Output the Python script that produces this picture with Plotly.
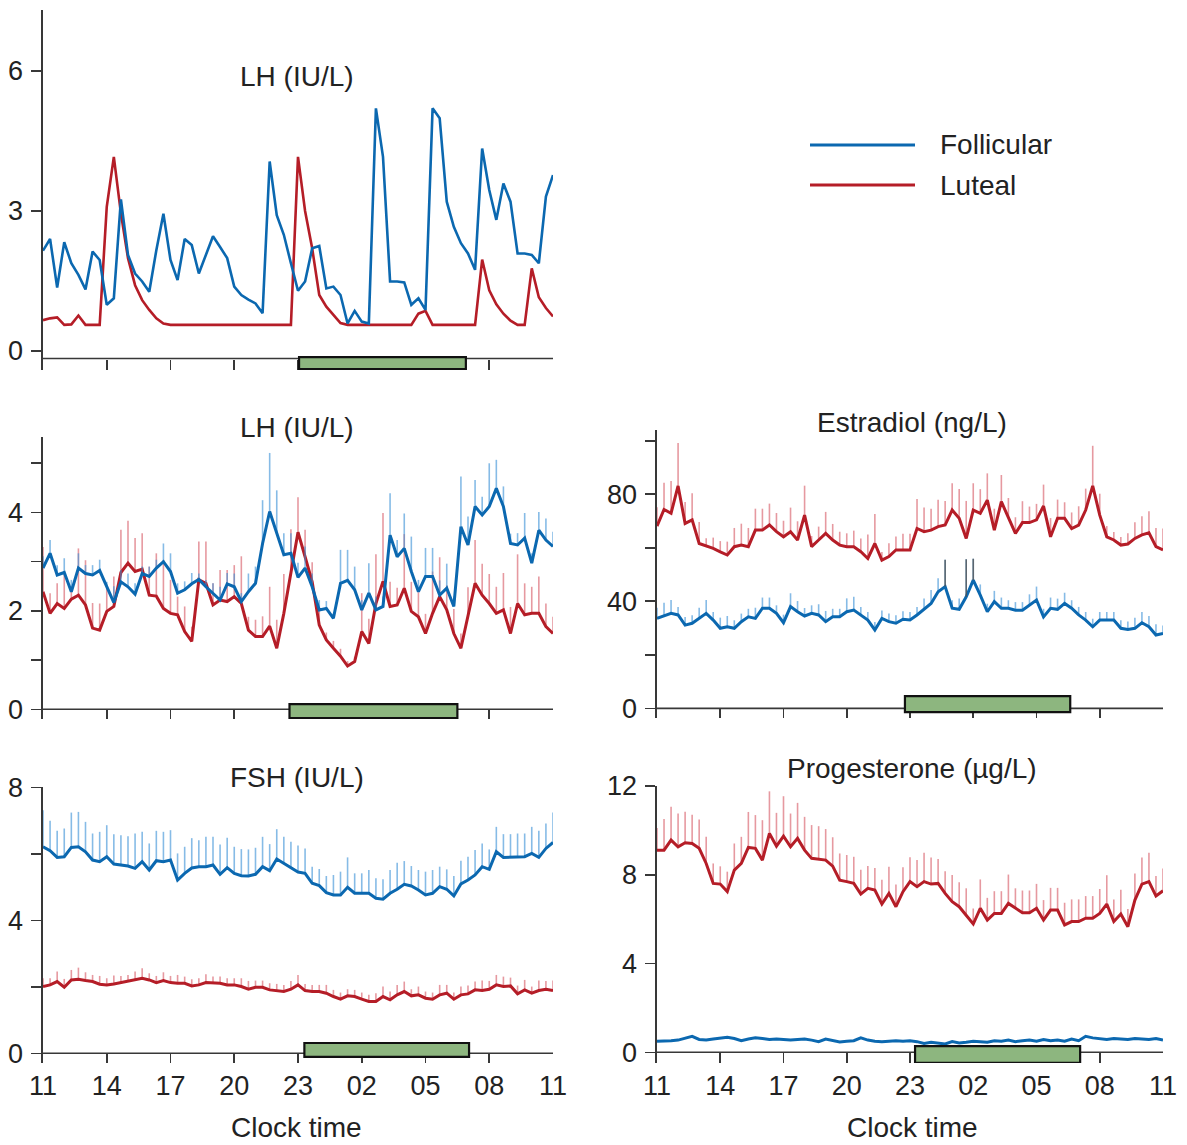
import plotly.graph_objects as go

# ---------------------------------------------------------------- data
SAMPLE_MIN = 20  # sampling interval (minutes), series start at 11:00
tick_hours = [0, 3, 6, 9, 12, 15, 18, 21, 24]
tick_labels = ["11", "14", "17", "20", "23", "02", "05", "08", "11"]

# Panel A: LH, single subject (IU/L)
lh_ind_fol = [2.15, 2.40, 1.36, 2.33, 1.88, 1.63, 1.32, 2.13, 1.95, 0.99,
              1.13, 3.25, 2.06, 1.66, 1.49, 1.27, 2.16, 2.94, 1.95, 1.52,
              2.40, 2.27, 1.66, 2.08, 2.46, 2.23, 1.99, 1.38, 1.20, 1.10,
              1.02, 0.81, 4.06, 2.91, 2.49, 1.88,
              1.29, 1.49, 2.20, 2.25, 1.34, 1.38, 1.20, 0.59, 0.86, 0.63,
              0.59, 5.20, 4.16, 1.49, 1.49, 1.47, 0.99, 1.13, 0.88, 5.20,
              4.99, 3.20, 2.66, 2.31, 2.09, 1.74, 4.34, 3.45, 2.81, 3.59,
              3.20, 2.09, 2.09, 2.06, 1.88, 3.31, 3.77]
lh_ind_lut = [0.66, 0.70, 0.72, 0.56, 0.57, 0.76, 0.56, 0.56, 0.56, 3.09,
              4.16, 2.95, 1.99, 1.41, 1.09, 0.88, 0.70, 0.59, 0.56, 0.56,
              0.56, 0.56, 0.56, 0.56, 0.56, 0.56, 0.56, 0.56, 0.56, 0.56,
              0.56, 0.56, 0.56, 0.56, 0.56, 0.56, 4.16, 3.00, 2.20, 1.20,
              0.95, 0.77, 0.60, 0.56, 0.56, 0.56, 0.56, 0.56, 0.56, 0.56,
              0.56, 0.56, 0.56, 0.80, 0.86, 0.56, 0.56, 0.56, 0.56, 0.56,
              0.56, 0.56, 1.96, 1.30, 1.00, 0.80, 0.65, 0.56, 0.56, 1.77,
              1.15, 0.92, 0.74]

# Panel B: LH mean + SEM (IU/L)
lh_fol = [2.87, 3.17, 2.73, 2.78, 2.39, 2.87, 2.76, 2.73, 2.82, 2.49,
          2.17, 2.59, 2.49, 2.34, 2.76, 2.70, 2.87, 3.00, 2.80, 2.36,
          2.43, 2.55, 2.64, 2.49, 2.36, 2.22, 2.55, 2.49, 2.19, 2.39,
          2.56, 3.37, 4.02, 3.56, 3.14, 3.17, 2.68,
          2.87, 2.49, 2.02, 2.05, 1.85, 2.56, 2.62, 2.43, 2.02, 2.36,
          2.02, 2.09, 3.54, 3.10, 3.27, 2.80, 2.39, 2.70, 2.70, 2.32,
          2.46, 2.09, 3.71, 3.34, 4.12, 3.95, 4.12, 4.49, 4.12, 3.37,
          3.34, 3.48, 2.97, 3.64, 3.44, 3.31]
lh_fol_sem = [0.24, 0.27, 0.20, 0.29, 0.24, 0.30, 0.17, 0.20, 0.22, 0.10,
              0.33, 0.24, 0.27, 0.22, 0.14, 0.20, 0.17, 0.37, 0.37, 0.20,
              0.17, 0.22, 0.12, 0.14, 0.20, 0.27, 0.22, 0.27, 0.17, 0.37,
              0.34, 0.88, 1.19, 0.89, 0.44, 0.41, 0.30,
              0.44, 0.27, 0.20, 0.15, 0.10, 0.68, 0.62, 0.47, 0.20, 0.61,
              0.27, 0.20, 0.85, 0.34, 0.71, 0.71, 0.24, 0.58, 0.58, 0.30,
              0.50, 0.20, 1.02, 0.58, 0.54, 0.37, 0.88, 0.58, 0.41, 0.20,
              0.24, 0.51, 0.20, 0.37, 0.44, 0.30]
lh_lut = [2.39, 1.95, 2.15, 2.05, 2.24, 2.32, 2.12, 1.65, 1.61, 1.99,
          2.09, 2.78, 2.97, 2.80, 2.85, 2.32, 2.30, 2.05, 1.95, 1.92,
          1.58, 1.38, 2.63, 2.56, 2.12, 2.22, 2.19, 2.29, 2.15, 1.61,
          1.48, 1.48, 1.69, 1.24, 1.95, 2.76, 3.60,
          3.10, 2.59, 1.71, 1.41, 1.24, 1.08, 0.88, 0.97, 1.58, 1.34,
          2.15, 2.60, 2.09, 2.12, 2.46, 1.99, 1.88, 1.54, 1.95, 2.29,
          2.02, 1.54, 1.24, 1.88, 2.56, 2.32, 2.15, 1.95, 2.02, 1.54,
          2.15, 1.92, 1.95, 1.95, 1.68, 1.54]
lh_lut_sem = [0.91, 0.41, 0.41, 0.75, 0.26, 0.95, 0.91, 0.51, 0.54, 0.51,
              0.61, 0.87, 0.86, 0.68, 0.73, 0.58, 0.87, 0.98, 0.68, 0.37,
              0.51, 0.30, 0.78, 0.85, 0.44, 0.61, 0.64, 0.64, 0.96, 0.27,
              0.34, 0.41, 0.80, 0.58, 0.80, 0.90, 0.71, 0.55, 0.40, 0.30,
              0.15, 0.15, 0.15, 0.10, 0.10, 0.78, 0.50, 1.00, 1.39, 0.50,
              0.35, 1.10, 0.60, 0.50, 0.40, 0.85, 0.80, 0.50, 0.50, 0.30,
              0.60, 0.88, 0.64, 0.60, 0.54, 0.75, 0.54, 1.00, 0.64, 0.54,
              0.75, 0.47, 0.34]

# Panel C: Estradiol mean + SEM (ng/L)
e2_fol = [33.6, 34.5, 35.5, 34.9, 31.1, 31.8, 33.6, 35.5, 33.0, 29.9,
          30.5, 29.9, 32.4, 34.2, 33.6, 37.4, 37.4, 35.5, 32.0, 38.0,
          36.1, 34.5, 35.5, 34.9, 32.4, 34.2, 34.2, 36.1, 36.7, 34.9,
          33.0, 29.3, 33.6, 32.4, 31.8, 33.3, 33.0, 34.9, 37.0, 39.2,
          43.6, 45.5, 37.4, 37.0, 41.7, 47.9, 42.3, 36.1, 39.9, 37.4,
          37.4, 36.7, 36.7, 38.6, 40.5, 34.2, 37.4, 37.0, 39.2, 37.4,
          34.9, 33.0, 30.5, 33.0, 33.0, 33.0, 29.9, 29.5, 29.9, 32.0,
          30.5, 27.4, 28.0]
e2_fol_sem = [4, 5, 5, 3, 3, 3, 4, 5, 3, 4,
              4, 3, 3, 3, 4, 4, 4, 3, 3, 5,
              4, 3, 3, 4, 4, 3, 3, 5, 5, 3,
              3, 3, 3, 3, 3, 3, 3, 3, 4, 5,
              5, 10, 3, 4, 14, 8, 4, 3, 4, 4,
              3, 3, 3, 4, 5, 3, 4, 4, 4, 3,
              3, 3, 3, 3, 3, 3, 3, 3, 4, 4,
              4, 4, 3]
e2_fol_dark_idx = [41, 44, 45]   # bars printed darker in the original
e2_lut = [68.1, 74.3, 72.9, 83.1, 69.1, 70.4, 61.6, 60.6, 59.8, 58.5,
          57.3, 60.4, 61.0, 60.4, 66.6, 66.6, 68.5, 66.0, 64.1, 66.0,
          62.9, 72.2, 60.4, 62.9, 65.4, 62.9, 61.0, 60.4, 60.4, 58.5,
          56.0, 61.6, 55.4, 56.7, 59.2, 59.2, 59.2, 67.2, 66.0, 66.6,
          67.9, 68.5, 74.1, 71.0, 63.5, 74.1, 72.9, 77.8, 66.6, 77.2,
          71.6, 65.4, 69.4, 69.4, 70.4, 75.6, 64.1, 71.0, 71.0, 67.2,
          68.5, 74.1, 83.1, 72.2, 64.1, 62.9, 61.0, 61.4, 63.5, 64.8,
          65.6, 60.4, 59.2]
e2_lut_sem = [7, 10, 12, 16, 8, 10, 8, 3, 4, 4,
              5, 7, 8, 7, 8, 8, 8, 7, 6, 9,
              7, 11, 4, 5, 8, 6, 5, 5, 6, 5,
              9, 11, 3, 5, 5, 6, 6, 11, 9, 8,
              10, 9, 10, 11, 14, 10, 9, 10, 8, 10,
              7, 6, 8, 6, 6, 8, 7, 7, 6, 6,
              7, 8, 15, 8, 4, 3, 3, 4, 6, 7,
              8, 7, 8]

# Panel D: FSH mean + SEM (IU/L)
fsh_fol = [6.22, 6.10, 5.90, 5.92, 6.20, 6.22, 6.07, 5.82, 5.77, 5.92,
           5.70, 5.67, 5.64, 5.57, 5.77, 5.52, 5.80, 5.77, 5.82, 5.22,
           5.42, 5.58, 5.62, 5.62, 5.67, 5.39, 5.59, 5.42, 5.35, 5.34,
           5.39, 5.62, 5.50, 5.85, 5.72, 5.57, 5.46, 5.42, 5.12, 5.05,
           4.84, 4.77, 4.77, 5.00, 4.82, 4.82, 4.82, 4.67, 4.64, 4.82,
           4.94, 5.09, 5.04, 4.92, 4.77, 4.82, 5.02, 4.94, 4.74, 5.10,
           5.22, 5.37, 5.62, 5.54, 6.07, 5.90, 5.90, 5.92, 5.92, 6.02,
           5.90, 6.17, 6.35]
fsh_fol_sem = [1.10, 0.90, 0.80, 0.85, 1.05, 1.05, 0.90, 0.80, 0.90, 0.95,
               0.90, 0.90, 0.90, 1.05, 0.90, 0.80, 0.90, 0.90, 0.90, 0.80,
               0.80, 0.90, 0.80, 0.90, 0.85, 0.90, 0.90, 0.80, 0.80, 0.80,
               0.80, 0.90, 0.80, 0.90, 0.80, 0.80, 0.80, 0.75, 0.50, 0.50,
               0.50, 0.60, 0.70, 0.90, 0.60, 0.60, 0.70, 0.60, 0.60, 0.70,
               0.80, 0.70, 0.60, 0.60, 0.70, 0.70, 0.60, 0.60, 0.60, 0.70,
               0.70, 0.75, 0.70, 0.60, 0.75, 0.70, 0.70, 0.70, 0.70, 0.80,
               0.80, 0.75, 0.90]
fsh_lut = [2.01, 2.06, 2.16, 1.99, 2.21, 2.23, 2.19, 2.16, 2.08, 2.06,
           2.09, 2.13, 2.16, 2.21, 2.26, 2.21, 2.13, 2.19, 2.13, 2.11,
           2.11, 2.03, 2.06, 2.13, 2.11, 2.11, 2.06, 2.06, 2.01, 1.93,
           1.99, 1.99, 1.91, 1.89, 1.86, 1.93, 2.06, 1.89, 1.86, 1.86,
           1.81, 1.71, 1.63, 1.73, 1.71, 1.63, 1.56, 1.56, 1.71, 1.61,
           1.76, 1.86, 1.73, 1.76, 1.66, 1.63, 1.76, 1.81, 1.63, 1.76,
           1.79, 1.91, 1.89, 1.93, 2.06, 2.01, 2.03, 1.79, 1.91, 1.81,
           1.89, 1.93, 1.89]
fsh_lut_sem = [0.25, 0.20, 0.30, 0.25, 0.30, 0.35, 0.25, 0.20, 0.25, 0.20,
               0.25, 0.20, 0.20, 0.25, 0.30, 0.20, 0.20, 0.25, 0.20, 0.25,
               0.20, 0.20, 0.20, 0.25, 0.20, 0.20, 0.20, 0.20, 0.25, 0.25,
               0.20, 0.20, 0.20, 0.20, 0.20, 0.25, 0.30, 0.20, 0.20, 0.20,
               0.25, 0.20, 0.20, 0.20, 0.20, 0.20, 0.20, 0.25, 0.30, 0.25,
               0.30, 0.30, 0.20, 0.25, 0.20, 0.20, 0.30, 0.25, 0.20, 0.25,
               0.25, 0.25, 0.30, 0.25, 0.30, 0.30, 0.25, 0.25, 0.30, 0.20,
               0.30, 0.25, 0.30]

# Panel E: Progesterone mean + SEM (ug/L)
p4_fol = [0.50, 0.50, 0.52, 0.55, 0.62, 0.72, 0.58, 0.55, 0.60, 0.65,
          0.68, 0.62, 0.52, 0.60, 0.65, 0.62, 0.58, 0.60, 0.57, 0.55,
          0.58, 0.60, 0.55, 0.48, 0.60, 0.52, 0.47, 0.50, 0.52, 0.65,
          0.55, 0.50, 0.48, 0.50, 0.52, 0.50, 0.52, 0.48, 0.40, 0.45,
          0.42, 0.38, 0.48, 0.42, 0.45, 0.50, 0.48, 0.45, 0.52, 0.50,
          0.55, 0.48, 0.52, 0.55, 0.50, 0.58, 0.52, 0.55, 0.50, 0.60,
          0.52, 0.72, 0.65, 0.62, 0.58, 0.62, 0.60, 0.58, 0.62, 0.60,
          0.58, 0.62, 0.55]
p4_lut = [9.11, 9.11, 9.56, 9.26, 9.44, 9.41, 9.19, 8.51, 7.61, 7.58,
          7.24, 8.21, 8.51, 9.23, 9.19, 8.66, 9.86, 9.29, 9.74, 9.26,
          9.64, 9.11, 8.74, 8.69, 8.66, 8.39, 7.76, 7.69, 7.61, 7.13,
          7.39, 7.31, 6.68, 7.16, 6.56, 7.24, 7.69, 7.46, 7.69, 7.58,
          7.61, 7.16, 6.79, 6.56, 6.19, 5.78, 6.49, 5.96, 6.26, 6.26,
          6.71, 6.49, 6.29, 6.29, 6.49, 5.96, 6.41, 6.41, 5.74, 5.89,
          5.89, 6.04, 6.04, 6.26, 6.68, 5.89, 6.23, 5.66, 6.86, 7.58,
          7.69, 7.04, 7.28]
p4_lut_sem = [1.0, 1.4, 1.5, 1.5, 1.4, 1.3, 1.3, 1.2, 0.9, 0.8,
              0.9, 1.2, 1.2, 1.6, 1.5, 1.8, 1.9, 1.5, 1.8, 1.5,
              1.6, 1.5, 1.5, 1.5, 1.4, 1.3, 1.2, 1.2, 1.2, 1.1,
              1.0, 1.0, 1.1, 1.2, 1.0, 1.1, 1.1, 1.2, 1.3, 1.2,
              1.1, 1.0, 1.2, 1.1, 1.2, 0.7, 1.3, 1.0, 1.0, 1.0,
              1.3, 0.9, 1.0, 1.0, 1.1, 0.9, 1.0, 1.0, 1.0, 1.0,
              1.0, 1.0, 1.0, 1.1, 1.3, 1.0, 1.1, 0.8, 1.2, 1.2,
              1.3, 0.9, 1.0]

# sleep period bar (hours after 11:00) per panel
sleep_bar = {"A": (12.05, 19.9), "B": (11.6, 19.5), "C": (11.76, 19.6),
             "D": (12.3, 20.05), "E": (12.24, 20.07)}

# ---------------------------------------------------------------- style
W, H = 1187, 1145
BLUE = "#0b68b0"
RED = "#b51d27"
BLUE_ERR = "rgba(60,145,215,0.62)"
RED_ERR = "rgba(212,80,92,0.58)"
DARK_ERR = "rgba(80,80,80,0.8)"
AXIS = "#383838"
TXT = "#222222"
GREEN = "#8db67f"
FONT = "Liberation Sans, Arial, sans-serif"
TICK_FS = 27
TITLE_FS = 28


def px_x(p):
    return p / W


def px_y(p):
    return 1 - p / H


def hours(vals):
    return [i * SAMPLE_MIN / 60 for i in range(len(vals))]


# panel geometry (pixel boxes) and axis settings
panels = {
    "A": dict(ax="", x=(43, 553), y=(10, 370), yr=(-0.407, 7.307),
              yt=[0, 3, 6], ytt=["0", "3", "6"], axis_y=-0.16,
              box_y=(-0.13, -0.386), xlab=False),
    "B": dict(ax="2", x=(43, 553), y=(437, 719), yr=(-0.197, 5.534),
              yt=[0, 1, 2, 3, 4, 5], ytt=["0", "", "2", "", "4", ""],
              axis_y=0, box_y=(0.107, -0.18), xlab=False),
    "C": dict(ax="3", x=(657, 1163), y=(430, 718), yr=(-3.6, 104.0),
              yt=[0, 20, 40, 60, 80, 100], ytt=["0", "", "40", "", "80", ""],
              axis_y=0, box_y=(4.6, -1.38), xlab=False),
    "D": dict(ax="4", x=(43, 553), y=(787, 1063), yr=(-0.292, 8.02),
              yt=[0, 2, 4, 6, 8], ytt=["0", "", "4", "", "8"],
              axis_y=0, box_y=(0.31, -0.11), xlab=True),
    "E": dict(ax="5", x=(657, 1163), y=(786, 1063), yr=(-0.482, 12.0),
              yt=[0, 4, 8, 12], ytt=["0", "4", "8", "12"],
              axis_y=0, box_y=(0.28, -0.47), xlab=True),
}

fig = go.Figure()


def add_line(panel, vals, color, width, sem=None, err_color=None):
    p = panels[panel]
    kw = {}
    if sem is not None:
        kw["error_y"] = dict(type="data", symmetric=False, array=sem,
                             arrayminus=[0] * len(sem), color=err_color,
                             thickness=1.6, width=0)
    fig.add_trace(go.Scatter(
        x=hours(vals), y=vals, mode="lines",
        line=dict(color=color, width=width),
        xaxis="x" + p["ax"], yaxis="y" + p["ax"], showlegend=False,
        hoverinfo="skip", **kw))


# Panel A
add_line("A", lh_ind_lut, RED, 2.6)
add_line("A", lh_ind_fol, BLUE, 2.6)
# Panel B
add_line("B", lh_lut, RED, 3, lh_lut_sem, RED_ERR)
add_line("B", lh_fol, BLUE, 3, lh_fol_sem, BLUE_ERR)
# Panel C
add_line("C", e2_lut, RED, 3, e2_lut_sem, RED_ERR)
add_line("C", e2_fol, BLUE, 3, e2_fol_sem, BLUE_ERR)
dark_y = [v if i in e2_fol_dark_idx else None for i, v in enumerate(e2_fol)]
fig.add_trace(go.Scatter(
    x=hours(e2_fol), y=dark_y, mode="markers",
    marker=dict(size=1, color="rgba(0,0,0,0)"),
    error_y=dict(type="data", symmetric=False, array=e2_fol_sem,
                 arrayminus=[0] * len(e2_fol_sem), color=DARK_ERR,
                 thickness=1.6, width=0),
    xaxis="x3", yaxis="y3", showlegend=False, hoverinfo="skip"))
# Panel D
add_line("D", fsh_fol, BLUE, 3, fsh_fol_sem, BLUE_ERR)
add_line("D", fsh_lut, RED, 3, fsh_lut_sem, RED_ERR)
# Panel E
add_line("E", p4_lut, RED, 3, p4_lut_sem, RED_ERR)
add_line("E", p4_fol, BLUE, 3)

layout = dict(width=W, height=H, autosize=False,
              margin=dict(l=0, r=0, t=0, b=0, pad=0),
              paper_bgcolor="white", plot_bgcolor="white",
              font=dict(family=FONT, color=TXT, size=TICK_FS),
              showlegend=False)
shapes = []
annotations = []
for key, p in panels.items():
    xa = "xaxis" + p["ax"]
    ya = "yaxis" + p["ax"]
    xr = "x" + p["ax"]
    yr = "y" + p["ax"]
    layout[xa] = dict(
        domain=[px_x(p["x"][0]), px_x(p["x"][1])], range=[0, 24],
        anchor=yr, automargin=False, showgrid=False, zeroline=False,
        showline=False, ticks="inside", ticklen=10, tickwidth=1.6,
        tickcolor=AXIS, tickvals=tick_hours, ticktext=tick_labels,
        showticklabels=p["xlab"], tickfont=dict(size=TICK_FS, color=TXT),
        ticklabelstandoff=4, fixedrange=True)
    layout[ya] = dict(
        domain=[px_y(p["y"][1]), px_y(p["y"][0])], range=list(p["yr"]),
        anchor=xr, automargin=False, showgrid=False, zeroline=False,
        showline=True, linecolor=AXIS, linewidth=1.6, ticks="outside",
        ticklen=10, tickwidth=1.6, tickcolor=AXIS, tickvals=p["yt"],
        ticktext=p["ytt"], tickfont=dict(size=TICK_FS, color=TXT),
        ticklabelstandoff=3, fixedrange=True)
    # horizontal axis line
    shapes.append(dict(type="line", xref=xr, yref=yr, x0=0, x1=24,
                       y0=p["axis_y"], y1=p["axis_y"],
                       line=dict(color=AXIS, width=1.6), layer="above"))
    # sleep bar
    bx = sleep_bar[key]
    shapes.append(dict(type="rect", xref=xr, yref=yr, x0=bx[0], x1=bx[1],
                       y0=p["box_y"][1], y1=p["box_y"][0],
                       fillcolor=GREEN, line=dict(color="#111111", width=2.2),
                       layer="above"))

titles = [("LH (IU/L)", 297, 76), ("LH (IU/L)", 297, 427),
          ("Estradiol (ng/L)", 912, 423), ("FSH (IU/L)", 297, 777),
          ("Progesterone (\u00b5g/L)", 912, 768),
          ("Clock time", 297, 1127), ("Clock time", 912, 1127)]
for text, cx, cy in titles:
    annotations.append(dict(text=text, x=px_x(cx), y=px_y(cy), xref="paper",
                            yref="paper", xanchor="center", yanchor="middle",
                            showarrow=False,
                            font=dict(size=TITLE_FS, color=TXT, family=FONT)))

# legend
for label, color, ly in [("Follicular", BLUE, 145), ("Luteal", RED, 185)]:
    shapes.append(dict(type="line", xref="paper", yref="paper",
                       x0=px_x(810), x1=px_x(915), y0=px_y(ly), y1=px_y(ly),
                       line=dict(color=color, width=3)))
    annotations.append(dict(text=label, x=px_x(938), y=px_y(ly), xref="paper",
                            yref="paper", xanchor="left", yanchor="middle",
                            showarrow=False,
                            font=dict(size=TITLE_FS, color=TXT, family=FONT)))

layout["shapes"] = shapes
layout["annotations"] = annotations
fig.update_layout(**layout)
fig.write_html(
    "out.html",
    config={"displayModeBar": False, "staticPlot": True},
    post_script="document.body.style.margin='0px';"
                "document.body.style.overflow='hidden';")
